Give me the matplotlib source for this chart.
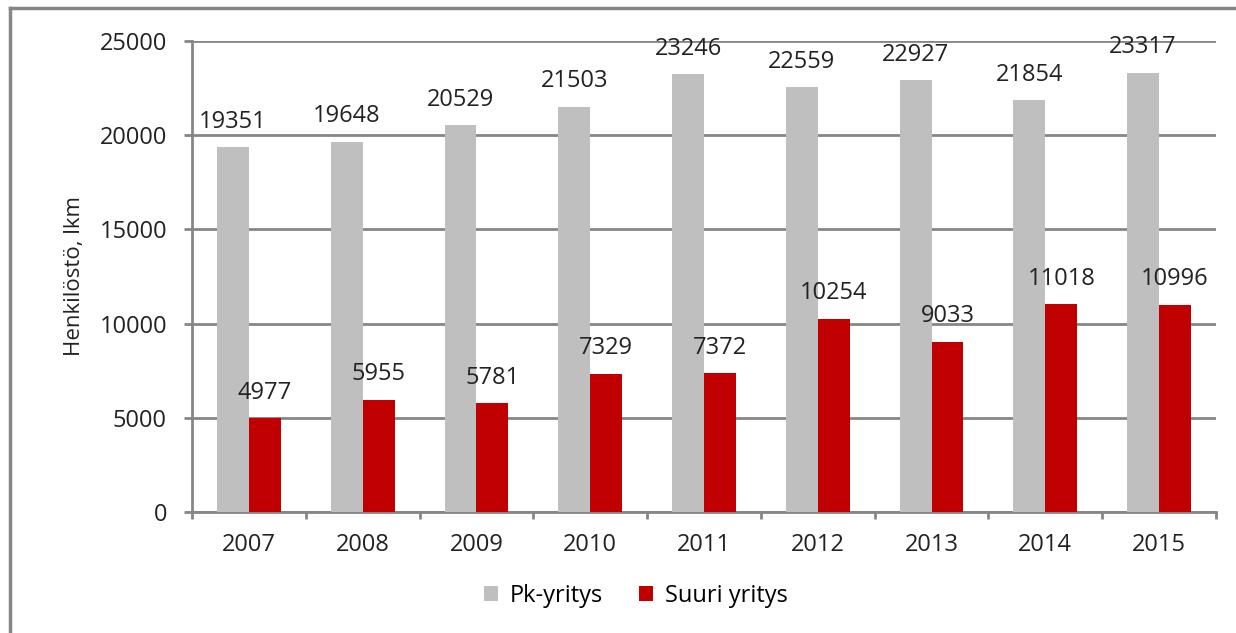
import matplotlib
matplotlib.use("Agg")
import matplotlib.pyplot as plt
from matplotlib.lines import Line2D
import numpy as np

years = ["2007", "2008", "2009", "2010", "2011", "2012", "2013", "2014", "2015"]
pk = [19351, 19648, 20529, 21503, 23246, 22559, 22927, 21854, 23317]
suuri = [4977, 5955, 5781, 7329, 7372, 10254, 9033, 11018, 10996]

grey = "#bfbfbf"
red = "#c00000"
line_c = "#868686"
txt = "#222222"

plt.rcParams['font.family'] = ['Open Sans', 'DejaVu Sans']

fig = plt.figure(figsize=(12.36, 6.33), dpi=100)
ax = fig.add_axes([192 / 1236, 1 - 512 / 633, 1024 / 1236, 471 / 633])

x = np.arange(len(years))
w = 0.28
b1 = ax.bar(x - w / 2, pk, w, color=grey, label="Pk-yritys", zorder=3)
b2 = ax.bar(x + w / 2, suuri, w, color=red, label="Suuri yritys", zorder=3)

for bars, vals in ((b1, pk), (b2, suuri)):
    for rect, v in zip(bars, vals):
        ax.annotate(str(v), (rect.get_x() + rect.get_width() / 2, v),
                    xytext=(0, 14), textcoords="offset points",
                    ha="center", va="baseline", fontsize=17, color=txt, zorder=4)

ax.set_xlim(-0.5, len(years) - 0.5)
ax.set_ylim(0, 25000)
ax.set_yticks(range(0, 25001, 5000))
ax.set_xticks(x)
ax.set_xticklabels(years)
ax.set_xticks(np.arange(-0.5, len(years)), minor=True)
ax.tick_params(axis="x", which="major", length=0, pad=15, labelsize=17, colors=txt)
ax.tick_params(axis="x", which="minor", length=5, width=2, color=line_c)
ax.tick_params(axis="y", length=6, width=2, color=line_c, pad=12, labelsize=17, labelcolor=txt)
ax.yaxis.grid(True, color=line_c, linewidth=2, zorder=0)
for s in ("top", "right"):
    ax.spines[s].set_visible(False)
for s in ("left", "bottom"):
    ax.spines[s].set_color(line_c)
    ax.spines[s].set_linewidth(2)
ax.set_ylabel("Henkilöstö, lkm", fontsize=16, color=txt, labelpad=10)

fig.legend(handles=[b1, b2], loc="center", bbox_to_anchor=(636 / 1236, 1 - 596 / 633),
           ncol=2, frameon=False, fontsize=17, handlelength=0.6, handleheight=0.6,
           columnspacing=1.5, handletextpad=0.5)

# outer frame (left and top edges visible)
fig.add_artist(Line2D([10 / 1236, 10 / 1236], [0, 1 - 8 / 633], color=line_c, linewidth=2.5,
                      transform=fig.transFigure))
fig.add_artist(Line2D([10 / 1236, 1], [1 - 8 / 633, 1 - 8 / 633], color=line_c, linewidth=2.5,
                      transform=fig.transFigure))

fig.savefig("out.png", dpi=100)
